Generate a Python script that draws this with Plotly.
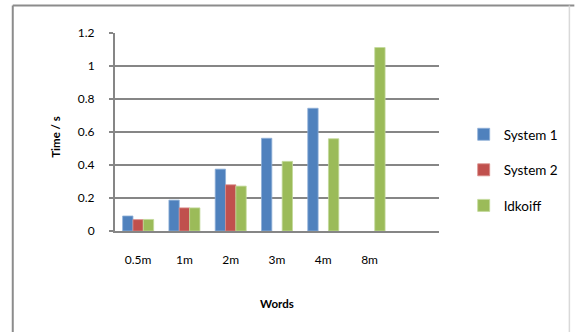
import plotly.graph_objects as go

# Word counts on the x axis and the run time of each system (seconds)
words = ["0.5m", "1m", "2m", "3m", "4m", "8m"]
system1 = [0.091, 0.187, 0.375, 0.562, 0.744, None]
system2 = [0.069, 0.140, 0.280, None, None, None]
idkoiff = [0.070, 0.140, 0.272, 0.422, 0.559, 1.112]

series = [
    ("System 1", system1, "#4F81BD", "#8fb0d8"),
    ("System 2", system2, "#C0504D", "#d98b89"),
    ("Idkoiff", idkoiff, "#9BBB59", "#c3d99a"),
]

FONT = "Lato, Noto Sans, sans-serif"
GRID = "#868686"

fig = go.Figure()
for i, (name, vals, color, edge) in enumerate(series):
    fig.add_trace(go.Bar(
        x=words, y=vals, name=name,
        marker=dict(color=color, line=dict(color=edge, width=0.8)),
        legendgroup=f"g{i}",
    ))

# plot area in pixels: x 115..443, y 33..231
L, R, T, B = 115, 443, 33, 231
W, H = R - L, B - T


def px(x):
    return (x - L) / W


def py(y):
    return (B - y) / H


fig.update_layout(
    width=576, height=332,
    margin=dict(l=L, r=576 - R, t=T, b=332 - B),
    paper_bgcolor="white", plot_bgcolor="white",
    barmode="group", bargap=0.33, bargroupgap=0,
    font=dict(family=FONT, size=12, color="#000000"),
    showlegend=True,
    legend=dict(
        x=px(468), xanchor="left", y=py(170), yanchor="middle",
        font=dict(family=FONT, size=13.5, color="#000000"),
        itemwidth=30, tracegroupgap=15, traceorder="grouped",
        bgcolor="rgba(0,0,0,0)",
    ),
    xaxis=dict(
        type="category", range=[-0.5, 6.5],
        showgrid=False, showline=True, linecolor=GRID, linewidth=2,
        ticks="", ticklabelstandoff=17,
        tickfont=dict(family=FONT, size=12),
        fixedrange=True,
    ),
    yaxis=dict(
        range=[0, 1.2], dtick=0.2, tick0=0,
        showgrid=True, gridcolor=GRID, gridwidth=2,
        showline=True, linecolor=GRID, linewidth=2,
        ticks="outside", ticklen=4, tickcolor=GRID, tickwidth=2,
        ticklabelstandoff=12,
        tickfont=dict(family=FONT, size=12),
        zeroline=False, fixedrange=True,
    ),
    annotations=[
        dict(text="<b>Words</b>", x=0.5, y=py(303), xref="paper", yref="paper",
             showarrow=False, font=dict(family=FONT, size=11.5),
             xanchor="center", yanchor="middle"),
        dict(text="<b>Time / s</b>", x=px(54), y=py(137), xref="paper", yref="paper",
             showarrow=False, textangle=-90, font=dict(family=FONT, size=11.5),
             xanchor="center", yanchor="middle"),
    ],
    shapes=[
        # chart frame
        dict(type="line", xref="paper", yref="paper",
             x0=px(11.5), x1=px(11.5), y0=py(5.5), y1=py(340),
             line=dict(color="#8c8c8c", width=2)),
        dict(type="line", xref="paper", yref="paper",
             x0=px(11.5), x1=px(580), y0=py(5.5), y1=py(5.5),
             line=dict(color="#8c8c8c", width=2)),
        dict(type="line", xref="paper", yref="paper",
             x0=px(575), x1=px(575), y0=py(5.5), y1=py(340),
             line=dict(color="#d9d9d9", width=1.5)),
    ],
)

fig.write_html("out.html")
